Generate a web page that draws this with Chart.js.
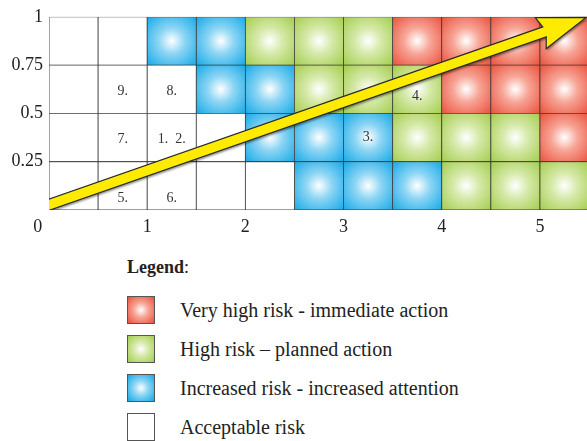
<!DOCTYPE html>
<html>
<head>
<meta charset="utf-8">
<script src="https://cdn.jsdelivr.net/npm/chart.js@4"></script>
<style>
  html, body { margin: 0; padding: 0; background: #fff; overflow: hidden; }
  #wrap { position: relative; width: 587px; height: 441px; overflow: hidden; font-family: "Liberation Serif", "Times New Roman", serif; color: #222; }
  #chart { position: absolute; left: 0; top: 0; }
  #legend-title { position: absolute; left: 127px; top: 256px; font-size: 18px; line-height: 22px; }
  #legend-title b { font-weight: bold; }
  .row { position: absolute; left: 127px; height: 28px; }
  .box { position: absolute; left: 0; top: 0; width: 28px; height: 28px; box-sizing: border-box; border: 1.5px solid #555; }
  .txt { position: absolute; left: 53px; top: 0; line-height: 28px; font-size: 20px; white-space: nowrap; }
</style>
</head>
<body>
<div id="wrap">
  <canvas id="chart" width="589" height="240"></canvas>
  <div id="legend-title"><b>Legend</b>:</div>
  <div id="legend"></div>
</div>
<script>
// column centres (each cell is 0.5 wide) and row bands (each 0.25 high)
var colX = [0.25, 0.75, 1.25, 1.75, 2.25, 2.75, 3.25, 3.75, 4.25, 4.75, 5.25];
var rowBands = [[0, 0.25], [0.25, 0.5], [0.5, 0.75], [0.75, 1]];

// risk class per cell, bottom row first: A acceptable, I increased, H high, V very high
var row1 = ["A", "A", "A", "A", "A", "I", "I", "I", "H", "H", "H"];
var row2 = ["A", "A", "A", "A", "I", "I", "I", "H", "H", "H", "V"];
var row3 = ["A", "A", "A", "I", "I", "H", "H", "H", "V", "V", "V"];
var row4 = ["A", "A", "I", "I", "H", "H", "H", "V", "V", "V", "V"];
var rows = [row1, row2, row3, row4];

var xTicks = [0, 1, 2, 3, 4, 5];
var yTicks = [0.25, 0.5, 0.75, 1];

// numbered hazards written in the cells
var cellText = ["9.", "8.", "7.", "1.  2.", "5.", "6.", "3.", "4."];
var cellTextX = [0.75, 1.25, 0.75, 1.25, 0.75, 1.25, 3.25, 3.75];
var cellTextY = [0.615, 0.615, 0.365, 0.365, 0.06, 0.06, 0.375, 0.59];

// the trend arrow
var arrowX = [-0.3, 5.47];
var arrowY = [-0.026, 0.997];

var legendNames = ["Very high risk - immediate action", "High risk \u2013 planned action",
                   "Increased risk - increased attention", "Acceptable risk"];
var legendKeys = ["V", "H", "I", "A"];

var shades = {
    V: ["#f7a596", "#ea4e3a"],
    H: ["#d5e9a8", "#a2cc4b"],
    I: ["#8cd5f4", "#12a8e6"],
    A: null
};

function cellFill(context) {
    var chart = context.chart;
    var key = rows[context.datasetIndex][context.dataIndex];
    if (!shades[key] || !chart.chartArea) return "#ffffff";
    var raw = context.raw;
    var cx = chart.scales.x.getPixelForValue(raw.x);
    var cy = (chart.scales.y.getPixelForValue(raw.y[0]) + chart.scales.y.getPixelForValue(raw.y[1])) / 2;
    var g = chart.ctx.createRadialGradient(cx, cy, 0, cx, cy, 35);
    g.addColorStop(0, "#ffffff");
    g.addColorStop(0.38, shades[key][0]);
    g.addColorStop(1, shades[key][1]);
    return g;
}

var datasets = rowBands.map(function(band, r) {
    return {
        data: colX.map(function(x) { return {x: x, y: band}; }),
        backgroundColor: cellFill,
        borderColor: "#3c3c3c",
        borderWidth: 0.8,
        borderSkipped: false,
        barPercentage: 1,
        categoryPercentage: 1
    };
});

var textPlugin = {
    id: "cellText",
    afterDatasetsDraw: function(chart) {
        var ctx = chart.ctx;
        ctx.save();
        ctx.font = "14px 'Liberation Serif', serif";
        ctx.fillStyle = "#333";
        ctx.textAlign = "center";
        ctx.textBaseline = "middle";
        for (var i = 0; i < cellText.length; i++) {
            ctx.fillText(cellText[i], chart.scales.x.getPixelForValue(cellTextX[i]),
                         chart.scales.y.getPixelForValue(cellTextY[i]));
        }
        ctx.restore();
    }
};

var arrowPlugin = {
    id: "arrow",
    afterDatasetsDraw: function(chart) {
        var ctx = chart.ctx, a = chart.chartArea;
        var x0 = chart.scales.x.getPixelForValue(arrowX[0]);
        var y0 = chart.scales.y.getPixelForValue(arrowY[0]);
        var x1 = chart.scales.x.getPixelForValue(arrowX[1]);
        var y1 = chart.scales.y.getPixelForValue(arrowY[1]);
        var len = Math.hypot(x1 - x0, y1 - y0);
        var ux = (x1 - x0) / len, uy = (y1 - y0) / len;
        var nx = -uy, ny = ux;
        var half = 5.3, headLen = 48, headHalf = 16.5, neck = 44;
        function pt(along, side) {
            return [x1 - ux * along + nx * side, y1 - uy * along + ny * side];
        }
        var pts = [
            [x0 + nx * half, y0 + ny * half],
            pt(neck, half),
            pt(headLen, headHalf),
            [x1, y1],
            pt(headLen, -headHalf),
            pt(neck, -half),
            [x0 - nx * half, y0 - ny * half]
        ];
        ctx.save();
        ctx.beginPath();
        ctx.rect(a.left, a.top - 5, a.right - a.left + 5, a.bottom - a.top + 5);
        ctx.clip();
        ctx.beginPath();
        ctx.moveTo(pts[0][0], pts[0][1]);
        for (var i = 1; i < pts.length; i++) ctx.lineTo(pts[i][0], pts[i][1]);
        ctx.closePath();
        ctx.shadowColor = "rgba(0,0,0,0.4)";
        ctx.shadowOffsetX = 1;
        ctx.shadowOffsetY = 2;
        ctx.shadowBlur = 2;
        ctx.fillStyle = "#ffeb00";
        ctx.fill();
        ctx.shadowColor = "transparent";
        ctx.lineWidth = 1.2;
        ctx.strokeStyle = "#2a2a2a";
        ctx.stroke();
        ctx.restore();
    }
};

var tickFont = {family: "'Liberation Serif', serif", size: 18};

new Chart(document.getElementById("chart"), {
    type: "bar",
    data: {datasets: datasets},
    options: {
        responsive: false,
        animation: false,
        layout: {padding: {top: 13, left: 0, right: 0, bottom: 0}},
        plugins: {legend: {display: false}, tooltip: {enabled: false}},
        scales: {
            x: {
                type: "linear", min: 0, max: 5.5, stacked: true, offset: false,
                grid: {display: false, offset: false, drawTicks: false},
                border: {display: false},
                afterBuildTicks: function(s) { s.ticks = xTicks.map(function(v) { return {value: v}; }); },
                afterFit: function(s) { s.height = 30; },
                ticks: {
                    font: tickFont, color: "#222", padding: 6, maxRotation: 0, autoSkip: false,
                    callback: function(v) { return v === 0 ? "0     " : String(v); }
                }
            },
            y: {
                type: "linear", min: 0, max: 1,
                grid: {display: false, drawTicks: false},
                border: {display: false},
                afterBuildTicks: function(s) { s.ticks = yTicks.map(function(v) { return {value: v}; }); },
                afterFit: function(s) { s.width = 49; },
                ticks: {
                    font: tickFont, color: "#222", padding: 6,
                    callback: function(v) { return String(v); }
                }
            }
        }
    },
    plugins: [textPlugin, arrowPlugin]
});

// legend
var legend = document.getElementById("legend");
legendNames.forEach(function(name, i) {
    var key = legendKeys[i];
    var row = document.createElement("div");
    row.className = "row";
    row.style.top = (296 + i * 39) + "px";
    var box = document.createElement("div");
    box.className = "box";
    if (shades[key]) {
        box.style.background = "radial-gradient(circle, #ffffff 0%, " + shades[key][0] + " 40%, " + shades[key][1] + " 100%)";
    }
    var txt = document.createElement("div");
    txt.className = "txt";
    txt.textContent = name;
    row.appendChild(box);
    row.appendChild(txt);
    legend.appendChild(row);
});
</script>
</body>
</html>
